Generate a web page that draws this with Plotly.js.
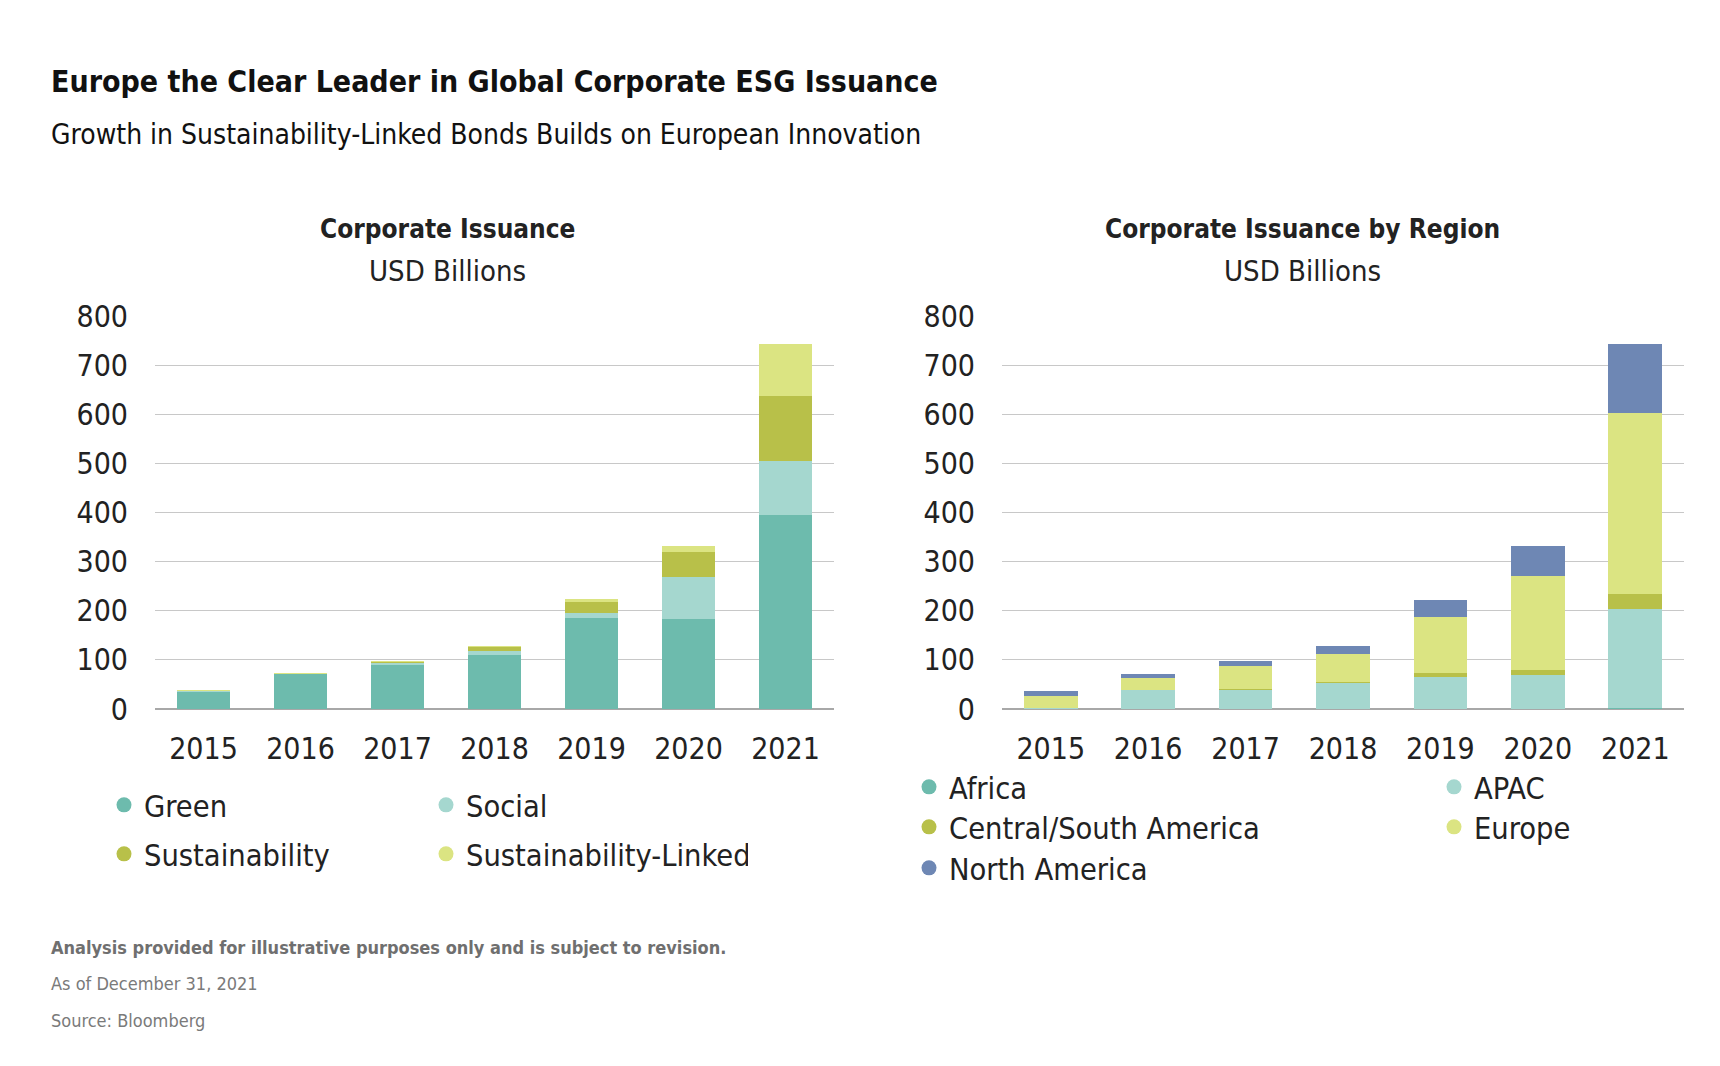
<!DOCTYPE html>
<html>
<head>
<meta charset="utf-8">
<script src="https://cdn.plot.ly/plotly-3.0.1.min.js"></script>
<style>
  html, body { margin: 0; padding: 0; background: #fff; }
  #chart { width: 1720px; height: 1066px; }
</style>
</head>
<body>
<div id="chart"></div>
<script>
// years on both charts
var years = ['2015', '2016', '2017', '2018', '2019', '2020', '2021'];

// left chart: issuance by bond type (USD bn)
var green = [35, 71, 90, 110, 185, 183, 394];
var social = [2, 0, 4, 9, 10, 86, 111];
var sustainability = [0, 1, 2, 7, 23, 50, 132];
var sustLinked = [1, 1, 2, 2, 5, 12, 107];

// right chart: issuance by region (USD bn)
var africa = [0, 0, 0, 0, 0, 0, 2];
var apac = [3, 38, 39, 52, 65, 70, 202];
var csAmerica = [0, 0, 2, 2, 9, 9, 30];
var europe = [24, 26, 46, 57, 113, 191, 368];
var northAmerica = [10, 8, 10, 17, 35, 61, 142];

var yTicks = [0, 100, 200, 300, 400, 500, 600, 700, 800];

var FONT = "'Liberation Sans Narrow', 'DejaVu Sans Condensed', Roboto, sans-serif";
var TEAL = '#6dbbad', MINT = '#a5d7cf', OLIVE = '#b8c049', LIME = '#dbe482', BLUE = '#6e87b4';

function barTrace(name, vals, color, axis) {
    return {
        type: 'bar', name: name, x: years, y: vals,
        xaxis: 'x' + axis, yaxis: 'y' + axis,
        marker: { color: color, line: { width: 0 } },
        showlegend: false, hoverinfo: 'x+y+name'
    };
}

// legend proxies so the legend shows round dots like the original
function legendDot(name, color, legendId) {
    return {
        type: 'scatter', mode: 'markers', name: name,
        x: [null], y: [null],
        marker: { color: color, size: 15, symbol: 'circle' },
        legend: legendId, showlegend: true, hoverinfo: 'skip'
    };
}

var data = [
    barTrace('Green', green, TEAL, ''),
    barTrace('Social', social, MINT, ''),
    barTrace('Sustainability', sustainability, OLIVE, ''),
    barTrace('Sustainability-Linked', sustLinked, LIME, ''),
    barTrace('Africa', africa, TEAL, '2'),
    barTrace('APAC', apac, MINT, '2'),
    barTrace('Central/South America', csAmerica, OLIVE, '2'),
    barTrace('Europe', europe, LIME, '2'),
    barTrace('North America', northAmerica, BLUE, '2'),

    legendDot('Green', TEAL, 'legend'),
    legendDot('Social', MINT, 'legend'),
    legendDot('Sustainability', OLIVE, 'legend2'),
    legendDot('Sustainability-Linked', LIME, 'legend2'),
    legendDot('Africa', TEAL, 'legend3'),
    legendDot('APAC', MINT, 'legend3'),
    legendDot('Central/South America', OLIVE, 'legend4'),
    legendDot('Europe', LIME, 'legend4'),
    legendDot('North America', BLUE, 'legend5')
];

function yAxis(domainAnchor) {
    return {
        anchor: domainAnchor, range: [0, 800], tickvals: yTicks,
        showgrid: true, gridcolor: '#c8c8c8', gridwidth: 1.2,
        zeroline: true, zerolinecolor: '#a8a8a8', zerolinewidth: 2.5,
        showline: false, ticks: '', ticklabelstandoff: 26,
        tickfont: { family: FONT, size: 30, color: '#222' },
        fixedrange: true
    };
}

function xAxis(domain, anchor) {
    return {
        domain: domain, anchor: anchor, type: 'category',
        range: [-0.5, 6.5], showgrid: false, showline: false, ticks: '',
        ticklabelstandoff: 19,
        tickfont: { family: FONT, size: 30, color: '#222' },
        fixedrange: true
    };
}

function legendRow(x, y, entry) {
    return {
        orientation: 'h', traceorder: 'normal', xref: 'container', yref: 'container',
        x: x / 1720, y: 1 - y / 1066, xanchor: 'left', yanchor: 'middle',
        entrywidth: entry, entrywidthmode: 'pixels',
        font: { family: FONT, size: 30.5, color: '#222' },
        bgcolor: 'rgba(0,0,0,0)', borderwidth: 0, itemclick: false, itemdoubleclick: false
    };
}

var plotTop = 316, plotBottom = 709;
function py(pix) { return (plotBottom - pix) / (plotBottom - plotTop); }
var plotLeft = 155, plotW = 1684 - 155;
function px(pix) { return (pix - plotLeft) / plotW; }

function note(text, x, y, size, color, weight, anchor) {
    return {
        text: text, xref: 'paper', yref: 'paper', x: px(x), y: py(y),
        xanchor: anchor || 'left', yanchor: 'middle', showarrow: false,
        font: { family: FONT, size: size, color: color, weight: weight || 'normal' }
    };
}

var layout = {
    width: 1720, height: 1066,
    margin: { l: plotLeft, r: 1720 - 1684, t: plotTop, b: 1066 - plotBottom },
    paper_bgcolor: '#fff', plot_bgcolor: '#fff',
    barmode: 'stack', bargap: 0.45,
    xaxis: xAxis([0, px(834)], 'y'),
    yaxis: yAxis('x'),
    xaxis2: xAxis([px(1002), 1], 'y2'),
    yaxis2: yAxis('x2'),
    legend: legendRow(104, 805, 277),
    legend2: legendRow(104, 854, 277),
    legend3: legendRow(909, 787, 480),
    legend4: legendRow(909, 827, 480),
    legend5: legendRow(909, 868, 480),
    annotations: [
        note('Europe the Clear Leader in Global Corporate ESG Issuance', 49, 82, 30, '#111', 'bold'),
        note('Growth in Sustainability-Linked Bonds Builds on European Innovation', 49, 135, 28, '#111'),
        note('Corporate Issuance', 447, 229, 26, '#222', 'bold', 'center'),
        note('USD Billions', 447, 271, 29, '#222', 'normal', 'center'),
        note('Corporate Issuance by Region', 1302, 229, 26, '#222', 'bold', 'center'),
        note('USD Billions', 1302, 271, 29, '#222', 'normal', 'center'),
        note('Analysis provided for illustrative purposes only and is subject to revision.', 49, 947, 18, '#6f6f6f', 'bold'),
        note('As of December 31, 2021', 49, 983, 18, '#7a7a7a'),
        note('Source: Bloomberg', 49, 1020, 18, '#7a7a7a')
    ]
};

Plotly.newPlot('chart', data, layout, { displayModeBar: false, staticPlot: true });
</script>
</body>
</html>
